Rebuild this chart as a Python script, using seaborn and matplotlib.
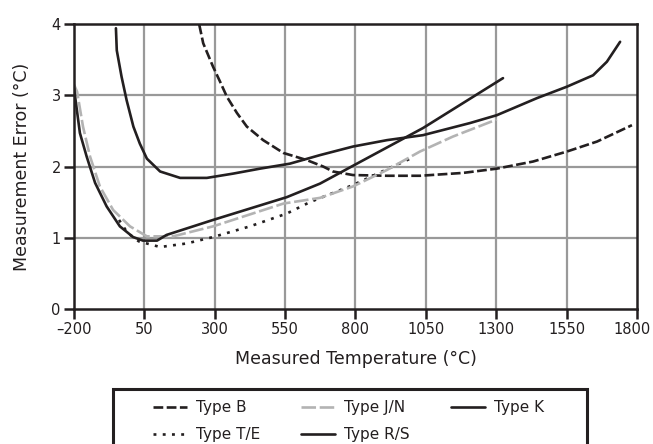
import matplotlib
matplotlib.use("Agg")
import matplotlib.pyplot as plt
import matplotlib.transforms as mtransforms
import seaborn as sns

type_b_t = [245, 259, 294, 319, 343, 379, 414, 472, 544, 627, 685, 720, 791, 912, 1029, 1182, 1302, 1431, 1551, 1658, 1782]
type_b_e = [3.99, 3.73, 3.40, 3.19, 2.98, 2.75, 2.56, 2.37, 2.19, 2.09, 2.00, 1.93, 1.88, 1.87, 1.87, 1.91, 1.97, 2.07, 2.21, 2.35, 2.58]

type_te_t = [-40, -10, 30, 106, 200, 294, 425, 556, 638, 791, 933, 1000]
type_te_e = [1.25, 1.07, 0.95, 0.87, 0.92, 1.01, 1.16, 1.34, 1.50, 1.74, 2.00, 2.12]

type_jn_t = [-200, -189, -168, -143, -108, -61, -1, 59, 152, 294, 544, 674, 791, 911, 1029, 1146, 1302]
type_jn_e = [3.15, 3.05, 2.56, 2.14, 1.72, 1.39, 1.16, 1.02, 1.02, 1.16, 1.48, 1.56, 1.72, 1.95, 2.21, 2.42, 2.66]

type_rs_t = [-51, -48, -31, -13, 11, 34, 59, 106, 177, 272, 365, 461, 567, 674, 791, 912, 1040, 1207, 1302, 1445, 1551, 1644, 1693, 1740]
type_rs_e = [3.94, 3.63, 3.26, 2.93, 2.56, 2.32, 2.11, 1.93, 1.84, 1.84, 1.90, 1.97, 2.04, 2.16, 2.28, 2.37, 2.44, 2.61, 2.72, 2.96, 3.12, 3.28, 3.47, 3.75]

type_k_t = [-200, -179, -155, -125, -84, -37, 10, 45, 95, 129, 294, 556, 674, 791, 1040, 1324]
type_k_e = [3.10, 2.47, 2.14, 1.77, 1.44, 1.16, 1.01, 0.96, 0.96, 1.04, 1.25, 1.57, 1.76, 2.01, 2.54, 3.24]

x_ticks = [-200, 50, 300, 550, 800, 1050, 1300, 1550, 1800]
y_ticks = [0, 1, 2, 3, 4]

sns.set_style("white")
plt.rcParams['font.family'] = ['DejaVu Sans']

fig = plt.figure(figsize=(6.53, 4.44), dpi=100)
ax = fig.add_axes([0.1133, 0.304, 0.8622, 0.642])

ink = '#231f20'
grid_col = '#999999'
for xt in x_ticks[1:-1]:
    ax.axvline(xt, color=grid_col, lw=1.6, zorder=0)
for yt in y_ticks[1:-1]:
    ax.axhline(yt, color=grid_col, lw=1.6, zorder=0)

# Draw each series with seaborn
series = [
    ('Type B', type_b_t, type_b_e, ink, (0, (3.7, 1.3))),
    ('Type T/E', type_te_t, type_te_e, ink, (0, (1.1, 2.4))),
    ('Type J/N', type_jn_t, type_jn_e, '#b3b3b3', (0, (5.5, 1.4))),
    ('Type R/S', type_rs_t, type_rs_e, ink, '-'),
    ('Type K', type_k_t, type_k_e, ink, '-'),
]
for label, t, e, col, ls in series:
    sns.lineplot(x=t, y=e, ax=ax, color=col, linestyle=ls, lw=1.9,
                 label=label, sort=False, legend=False)

ax.set_xlim(-200, 1800)
ax.set_ylim(0, 4)
ax.set_xticks(x_ticks)
ax.set_yticks(y_ticks)
ax.set_xticklabels(['\u2013200'] + [str(v) for v in x_ticks[1:]])
ax.tick_params(axis='both', direction='out', length=7.5, width=1.8, color=ink,
               labelsize=10.5, pad=2, left=True, bottom=True, labelcolor=ink)
# last x label hugs the right edge, as in the original
last = ax.get_xticklabels()[-1]
last.set_transform(last.get_transform() +
                   mtransforms.ScaledTranslation(-5 / 100, 0, fig.dpi_scale_trans))
for sp in ax.spines.values():
    sp.set_color(ink)
    sp.set_linewidth(1.8)

ax.set_xlabel('Measured Temperature (\u00b0C)', fontsize=12.5, labelpad=9, color=ink)
ax.set_ylabel('Measurement Error (\u00b0C)', fontsize=12.5, labelpad=15, color=ink)

# Legend box at the bottom, running off the lower edge of the figure
fig.add_artist(plt.Rectangle((113 / 653, -0.05), (587 - 113) / 653, 0.05 + 55 / 444,
                             transform=fig.transFigure, fill=False, lw=2.2, ec=ink))
handles, labels = ax.get_legend_handles_labels()
leg = fig.legend(handles, labels, loc='upper left', bbox_to_anchor=(153 / 653, 0.098),
                 ncol=3, frameon=False, fontsize=11, handlelength=2.2,
                 handletextpad=0.6, columnspacing=2.7,
                 borderpad=0, labelspacing=0.75, borderaxespad=0)
for t in leg.get_texts():
    t.set_color(ink)

fig.savefig('out.png', dpi=100)
